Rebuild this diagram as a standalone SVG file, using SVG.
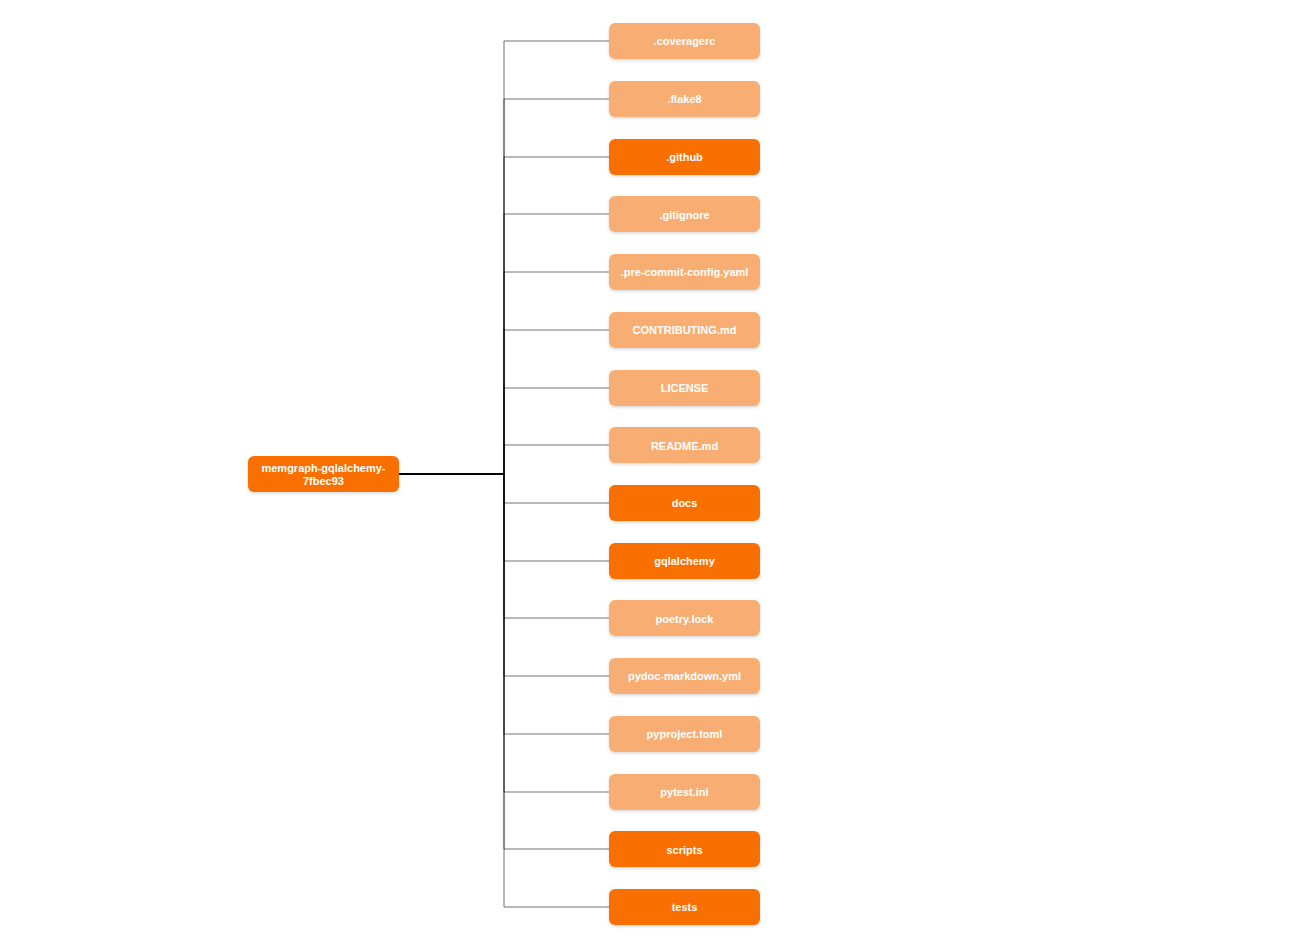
<svg xmlns="http://www.w3.org/2000/svg" width="1290" height="946" viewBox="0 0 1290 946">
<defs>
<filter id="sh" x="-20%" y="-30%" width="140%" height="170%">
<feDropShadow dx="0" dy="1.5" stdDeviation="1.5" flood-color="#000" flood-opacity="0.15"/>
</filter>
</defs>
<style>
.n rect{filter:url(#sh)}
.dir rect{fill:#FA7000}
.file rect{fill:#F8AE72}
.n text{font-family:"Liberation Sans",Arial,sans-serif;font-weight:bold;font-size:11px;fill:#fff;text-anchor:middle}
.c path{fill:none;stroke:#000;stroke-opacity:0.55;stroke-width:1}
</style>
<rect width="1290" height="946" fill="#fff"/>
<g class="c" id="connectors">
<path d="M399,474H504V41H609"/>
<path d="M399,474H504V99H609"/>
<path d="M399,474H504V157H609"/>
<path d="M399,474H504V214H609"/>
<path d="M399,474H504V272H609"/>
<path d="M399,474H504V330H609"/>
<path d="M399,474H504V388H609"/>
<path d="M399,474H504V445H609"/>
<path d="M399,474H504V503H609"/>
<path d="M399,474H504V561H609"/>
<path d="M399,474H504V618H609"/>
<path d="M399,474H504V676H609"/>
<path d="M399,474H504V734H609"/>
<path d="M399,474H504V792H609"/>
<path d="M399,474H504V849H609"/>
<path d="M399,474H504V907H609"/>
</g>
<g id="root" class="n dir"><rect x="248" y="456" width="151" height="36" rx="6"/><text x="323.5" y="472">memgraph-gqlalchemy-</text><text x="323.5" y="484.5">7fbec93</text></g>
<g id="n1" class="n file"><rect x="609" y="23" width="151" height="36" rx="6"/><text x="684.5" y="45">.coveragerc</text></g>
<g id="n2" class="n file"><rect x="609" y="81" width="151" height="36" rx="6"/><text x="684.5" y="103">.flake8</text></g>
<g id="n3" class="n dir"><rect x="609" y="139" width="151" height="36" rx="6"/><text x="684.5" y="161">.github</text></g>
<g id="n4" class="n file"><rect x="609" y="196" width="151" height="36" rx="6"/><text x="684.5" y="218.5">.gitignore</text></g>
<g id="n5" class="n file"><rect x="609" y="254" width="151" height="36" rx="6"/><text x="684.5" y="276">.pre-commit-config.yaml</text></g>
<g id="n6" class="n file"><rect x="609" y="312" width="151" height="36" rx="6"/><text x="684.5" y="334">CONTRIBUTING.md</text></g>
<g id="n7" class="n file"><rect x="609" y="370" width="151" height="36" rx="6"/><text x="684.5" y="392">LICENSE</text></g>
<g id="n8" class="n file"><rect x="609" y="427" width="151" height="36" rx="6"/><text x="684.5" y="449.5">README.md</text></g>
<g id="n9" class="n dir"><rect x="609" y="485" width="151" height="36" rx="6"/><text x="684.5" y="507">docs</text></g>
<g id="n10" class="n dir"><rect x="609" y="543" width="151" height="36" rx="6"/><text x="684.5" y="565">gqlalchemy</text></g>
<g id="n11" class="n file"><rect x="609" y="600" width="151" height="36" rx="6"/><text x="684.5" y="622.5">poetry.lock</text></g>
<g id="n12" class="n file"><rect x="609" y="658" width="151" height="36" rx="6"/><text x="684.5" y="680">pydoc-markdown.yml</text></g>
<g id="n13" class="n file"><rect x="609" y="716" width="151" height="36" rx="6"/><text x="684.5" y="738">pyproject.toml</text></g>
<g id="n14" class="n file"><rect x="609" y="774" width="151" height="36" rx="6"/><text x="684.5" y="796">pytest.ini</text></g>
<g id="n15" class="n dir"><rect x="609" y="831" width="151" height="36" rx="6"/><text x="684.5" y="853.5">scripts</text></g>
<g id="n16" class="n dir"><rect x="609" y="889" width="151" height="36" rx="6"/><text x="684.5" y="911">tests</text></g>
</svg>
